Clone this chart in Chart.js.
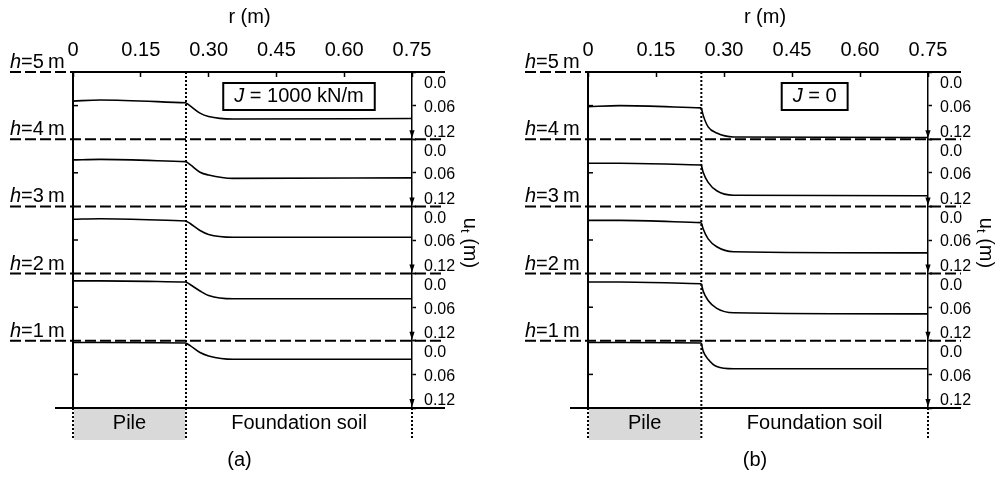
<!DOCTYPE html>
<html>
<head>
<meta charset="utf-8">
<script src="https://cdn.jsdelivr.net/npm/chart.js@4.4.1/dist/chart.umd.min.js"></script>
<style>
  html, body { margin: 0; padding: 0; background: #fff; }
  #wrap { position: relative; width: 1005px; height: 479px; }
  .panel { position: absolute; top: 0; height: 479px; }
  #panelA { left: 0; width: 515px; }
  #panelB { left: 515px; width: 490px; }
</style>
</head>
<body>
<div id="wrap">
  <div class="panel" id="panelA"><canvas id="chartA"></canvas></div>
  <div class="panel" id="panelB"><canvas id="chartB"></canvas></div>
</div>
<script>
// strip levels, top to bottom
const heights = [5, 4, 3, 2, 1];
const rTicks = [0, 0.15, 0.30, 0.45, 0.60, 0.75];
const uTicks = [0, 0.06, 0.12];
const pileRadius = 0.25;

// settlement profiles, J = 1000 kN/m
const rJ1000 = [0, 0.06, 0.25, 0.26, 0.281, 0.30, 0.354, 0.75];
const uJ1000h5 = [0.052, 0.050, 0.055, 0.061, 0.0735, 0.0795, 0.084, 0.083];
const uJ1000h4 = [0.037, 0.036, 0.040, 0.046, 0.059, 0.064, 0.070, 0.069];
const uJ1000h3 = [0.023, 0.022, 0.026, 0.031, 0.043, 0.050, 0.055, 0.055];
const uJ1000h2 = [0.013, 0.013, 0.015, 0.020, 0.031, 0.039, 0.045, 0.045];
const uJ1000h1 = [0.003, 0.003, 0.004, 0.009, 0.021, 0.027, 0.033, 0.033];

// settlement profiles, J = 0
const rJ0 = [0, 0.07, 0.25, 0.254, 0.265, 0.284, 0.321, 0.75];
const uJ0h5 = [0.062, 0.060, 0.064, 0.077, 0.098, 0.109, 0.116, 0.117];
const uJ0h4 = [0.043, 0.043, 0.046, 0.059, 0.077, 0.092, 0.100, 0.101];
const uJ0h3 = [0.025, 0.025, 0.029, 0.040, 0.058, 0.072, 0.081, 0.083];
const uJ0h2 = [0.015, 0.015, 0.018, 0.031, 0.048, 0.062, 0.070, 0.072];
const uJ0h1 = [0.003, 0.003, 0.004, 0.018, 0.033, 0.046, 0.050, 0.050];

const FONT = "'Liberation Sans', Arial, sans-serif";
Chart.defaults.font.family = FONT;
Chart.defaults.color = '#000';

function line(ctx, x1, y1, x2, y2, width, dash) {
    ctx.save();
    ctx.beginPath();
    ctx.lineWidth = width;
    ctx.strokeStyle = '#000';
    ctx.setLineDash(dash || []);
    ctx.moveTo(x1, y1);
    ctx.lineTo(x2, y2);
    ctx.stroke();
    ctx.restore();
}

// draws runs of text with different fonts, centred on (cx, cy)
function mixedText(ctx, parts, cx, cy) {
    let total = 0;
    parts.forEach(p => { ctx.font = p.font; p.w = ctx.measureText(p.text).width; total += p.w; });
    let x = cx - total / 2;
    ctx.textAlign = 'left';
    ctx.textBaseline = 'middle';
    parts.forEach(p => {
        ctx.font = p.font;
        ctx.fillText(p.text, x, cy + (p.dy || 0));
        x += p.w;
    });
    return total;
}

const frame = {
    id: 'frame',
    afterDraw(chart, args, opts) {
        const ctx = chart.ctx;
        const {left, right, top, bottom} = chart.chartArea;
        const xs = chart.scales.x;
        const xPile = xs.getPixelForValue(pileRadius);
        const xMid = xs.getPixelForValue(0.5);
        ctx.save();

        // pile block below the profiles
        ctx.fillStyle = '#d9d9d9';
        ctx.fillRect(left + 1, bottom + 1, xPile - left - 2, 31);
        ctx.fillStyle = '#000';

        line(ctx, left, top - 1, left, bottom + 1, 2);

        heights.forEach((h, i) => {
            const s = chart.scales['u' + h];
            const y0 = s.getPixelForValue(0);
            const yMid = s.getPixelForValue(0.06);
            const y1 = s.getPixelForValue(0.12);
            if (i === 0) {
                line(ctx, left - 63, y0, left, y0, 2, [11, 4]);
                line(ctx, left, y0, right + 33, y0, 2);
            } else {
                line(ctx, left - 63, y0, right + 33, y0, 2, [11, 4]);
            }
            line(ctx, left, yMid, left + 5, yMid, 1.5);

            // arrow on the settlement axis
            ctx.beginPath();
            ctx.moveTo(right, y1 - 1);
            ctx.lineTo(right - 2.6, y1 - 9);
            ctx.lineTo(right + 2.6, y1 - 9);
            ctx.closePath();
            ctx.fill();

            // tick labels of each strip
            ctx.font = '16px ' + FONT;
            ctx.textAlign = 'left';
            ctx.textBaseline = 'middle';
            ctx.fillText('0.0', right + 12, y0 + 12);
            ctx.fillText('0.06', right + 12, yMid + 2);
            ctx.fillText('0.12', right + 12, y1 - 7);

            // level label above the boundary line
            ctx.textBaseline = 'alphabetic';
            ctx.font = 'italic 20px ' + FONT;
            ctx.fillText('h', left - 63, y0 - 4);
            const hw = ctx.measureText('h').width;
            ctx.font = '20px ' + FONT;
            ctx.fillText('=' + h + '\u2009m', left - 63 + hw, y0 - 4);
        });

        line(ctx, left - 18, bottom, right + 33, bottom, 2);

        // pile edge and the lower markers
        line(ctx, xPile, top, xPile, bottom + 32, 2, [2, 2]);
        line(ctx, left, bottom, left, bottom + 32, 2, [2, 2]);
        line(ctx, right, bottom, right, bottom + 32, 2, [2, 2]);

        ctx.font = '20px ' + FONT;
        ctx.textAlign = 'center';
        ctx.textBaseline = 'middle';
        ctx.fillText('Pile', (left + xPile) / 2, bottom + 15);
        ctx.fillText('Foundation soil', (xPile + right) / 2, bottom + 15);
        ctx.fillText(opts.tag, (left + right) / 2 - 3, 460);
        ctx.fillText('r (m)', (left + right) / 2 + 7, 17);

        // J box
        const w = mixedText(ctx, [
            {text: 'J', font: 'italic 20px ' + FONT},
            {text: ' = ' + opts.jValue, font: '20px ' + FONT}
        ], xMid, top + 24);
        ctx.lineWidth = 2;
        ctx.strokeStyle = '#000';
        ctx.strokeRect(xMid - w / 2 - 11, top + 11, w + 22, 27);

        // settlement axis title
        ctx.save();
        ctx.translate(right + 58, (top + bottom) / 2 + 3);
        ctx.rotate(Math.PI / 2);
        mixedText(ctx, [
            {text: 'u', font: '20px ' + FONT},
            {text: 't', font: '13px ' + FONT, dy: 5},
            {text: ' (m)', font: '20px ' + FONT}
        ], 0, 0);
        ctx.restore();

        ctx.restore();
    }
};

function makePanel(canvasId, rValues, profiles, jValue, tag, padRight) {
    const scales = {
        x: {
            type: 'linear',
            position: 'top',
            min: 0,
            max: 0.75,
            afterBuildTicks: s => { s.ticks = rTicks.map(v => ({value: v})); },
            afterFit: s => { s.height = 72; },
            ticks: {
                font: {size: 20},
                padding: 15,
                maxRotation: 0,
                autoSkip: false,
                callback: v => v === 0 ? '0' : v.toFixed(2)
            },
            grid: {drawOnChartArea: false, tickLength: -5, tickWidth: 1.5, tickColor: '#000'},
            border: {display: false}
        }
    };
    heights.forEach(h => {
        scales['u' + h] = {
            type: 'linear',
            position: 'right',
            stack: 'strips',
            stackWeight: 1,
            reverse: true,
            min: 0,
            max: 0.12,
            afterBuildTicks: s => { s.ticks = uTicks.map(v => ({value: v})); },
            afterFit: s => { s.width = 30; },
            ticks: {display: false},
            grid: {drawOnChartArea: false, tickLength: 4, tickWidth: 1.5, tickColor: '#000'},
            border: {display: true, color: '#000', width: 1.5}
        };
    });

    // each profile is drawn as a pile part and a soil part that meet at the pile edge
    const edge = rValues.indexOf(pileRadius);
    const datasets = [];
    heights.forEach((h, i) => {
        const pts = rValues.map((r, k) => ({x: r, y: profiles[i][k]}));
        [pts.slice(0, edge + 1), pts.slice(edge)].forEach((part, j) => {
            datasets.push({
                label: 'h=' + h + ' m' + (j ? ' soil' : ' pile'),
                data: part,
                xAxisID: 'x',
                yAxisID: 'u' + h,
                borderColor: '#000',
                borderWidth: 1.6,
                pointRadius: 0,
                fill: false,
                cubicInterpolationMode: 'monotone'
            });
        });
    });

    return new Chart(document.getElementById(canvasId), {
        type: 'line',
        data: {datasets},
        options: {
            responsive: true,
            maintainAspectRatio: false,
            animation: false,
            layout: {padding: {left: 73, right: padRight, top: 0, bottom: 71}},
            scales,
            plugins: {
                legend: {display: false},
                tooltip: {enabled: false},
                frame: {tag, jValue}
            }
        },
        plugins: [frame]
    });
}

makePanel('chartA', rJ1000, [uJ1000h5, uJ1000h4, uJ1000h3, uJ1000h2, uJ1000h1], '1000 kN/m', '(a)', 73);
makePanel('chartB', rJ0, [uJ0h5, uJ0h4, uJ0h3, uJ0h2, uJ0h1], '0', '(b)', 47);
</script>
</body>
</html>
